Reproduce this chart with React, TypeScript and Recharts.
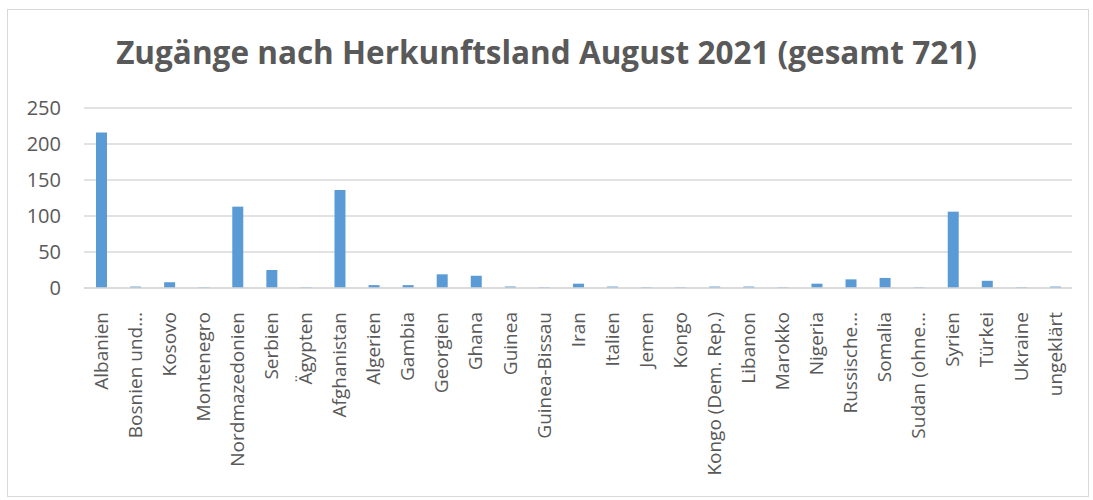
import React from 'react';
import { BarChart, Bar, XAxis, YAxis, CartesianGrid } from 'recharts';

const countries = [
  'Albanien', 'Bosnien und…', 'Kosovo', 'Montenegro', 'Nordmazedonien', 'Serbien',
  'Ägypten', 'Afghanistan', 'Algerien', 'Gambia', 'Georgien', 'Ghana', 'Guinea',
  'Guinea-Bissau', 'Iran', 'Italien', 'Jemen', 'Kongo', 'Kongo (Dem. Rep.)', 'Libanon',
  'Marokko', 'Nigeria', 'Russische…', 'Somalia', 'Sudan (ohne…', 'Syrien', 'Türkei',
  'Ukraine', 'ungeklärt',
];
const arrivals = [
  216, 2, 8, 1, 113, 25, 1, 136, 4, 4, 19, 17, 2, 1, 6, 2, 1, 1, 2, 2, 1, 6, 12, 14, 1,
  106, 10, 1, 2,
];
const yTicks = [0, 50, 100, 150, 200, 250];
const title = 'Zugänge nach Herkunftsland August 2021 (gesamt 721)';

const data = countries.map((name, i) => ({ name, value: arrivals[i] }));

const FONT = '"Open Sans", sans-serif';
const GREY = '#595959';

const XTick = ({ x, y, payload }: any) => (
  <text
    x={x}
    y={y + 16}
    transform={`rotate(-90, ${x}, ${y + 16})`}
    textAnchor="end"
    dy="0.35em"
    fill={GREY}
    fontSize={19}
    fontFamily={FONT}
  >
    {payload.value}
  </text>
);

const App = () => {
  return (
    <div style={{ position: 'absolute', left: 0, top: 0, width: 1093, height: 500, background: '#fff' }}>
      <div
        style={{
          position: 'absolute', left: 7, top: 9, width: 1082, height: 488,
          border: '1px solid #d9d9d9', boxSizing: 'border-box',
        }}
      />
      <div
        style={{
          position: 'absolute', left: 0, top: 30, width: 1093, textAlign: 'center',
          fontFamily: FONT, fontWeight: 700, fontSize: 31.5, color: GREY, lineHeight: '44px',
        }}
      >
        {title}
      </div>
      <BarChart
        width={1093}
        height={500}
        data={data}
        margin={{ top: 108, right: 21, left: 0, bottom: 12 }}
        style={{ position: 'absolute', left: 0, top: 0 }}
      >
        <CartesianGrid vertical={false} stroke="#d9d9d9" strokeWidth={1.3} />
        <XAxis
          dataKey="name"
          interval={0}
          height={200}
          tickLine={false}
          axisLine={{ stroke: '#d9d9d9', strokeWidth: 1.3 }}
          tick={<XTick />}
        />
        <YAxis
          width={84}
          domain={[0, 250]}
          ticks={yTicks}
          axisLine={false}
          tickLine={false}
          tickSize={0}
          tickMargin={23}
          tick={{ fill: GREY, fontSize: 20, fontFamily: FONT }}
        />
        <Bar dataKey="value" fill="#5b9bd5" barSize={11} isAnimationActive={false} />
      </BarChart>
    </div>
  );
};

export default App;
